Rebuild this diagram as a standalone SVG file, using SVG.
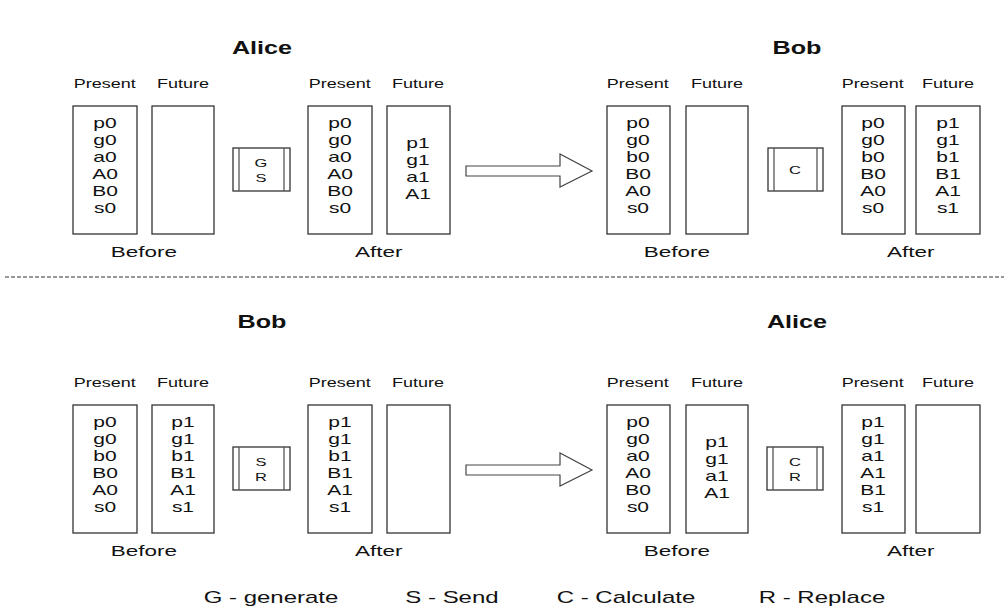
<svg xmlns="http://www.w3.org/2000/svg" width="1004" height="608" viewBox="0 0 1004 608">
  <style>
    text { font-family: "Liberation Sans", Arial, sans-serif; fill: #111; text-anchor: middle;
           transform-box: fill-box; transform-origin: center; transform: scaleX(1.5); }
    .title { font-size: 18px; font-weight: bold; transform: scaleX(1.4); }
    .hdr { font-size: 12px; }
    .cap { font-size: 15px; }
    .val { font-size: 14px; }
    .op { font-size: 11px; }
    .legend { font-size: 16px; }
    .reg { fill: #fff; stroke: #333; stroke-width: 1.3; }
    .proc { fill: #fff; stroke: #333; stroke-width: 1.3; }
    .bar { stroke: #555; stroke-width: 1.3; }
    .arrow { fill: #fff; stroke: #444; stroke-width: 1.2; }
    .sep { stroke: #777; stroke-width: 1.5; stroke-dasharray: 4 2; }
  </style>

  <!-- section titles -->
  <text class="title" x="262" y="54">Alice</text>
  <text class="title" x="797" y="54">Bob</text>
  <text class="title" x="262" y="328">Bob</text>
  <text class="title" x="797" y="328">Alice</text>

  <!-- separator between the two exchanges -->
  <line class="sep" x1="5" y1="277" x2="1004" y2="277"/>

  <!-- ===== Top row: Alice generates & sends, Bob calculates ===== -->
  <g id="alice-before-1">
    <text class="hdr" x="105" y="88">Present</text>
    <text class="hdr" x="183" y="88">Future</text>
    <rect class="reg" x="73" y="106" width="64" height="128"/>
    <rect class="reg" x="152" y="106" width="62" height="128"/>
    <text class="val" x="105" y="128">p0</text>
    <text class="val" x="105" y="145">g0</text>
    <text class="val" x="105" y="162">a0</text>
    <text class="val" x="105" y="179">A0</text>
    <text class="val" x="105" y="196">B0</text>
    <text class="val" x="105" y="213">s0</text>
    <text class="cap" x="144" y="257">Before</text>
  </g>

  <g id="op-gs">
    <rect class="proc" x="233" y="148" width="57" height="43"/>
    <line class="bar" x1="239" y1="148" x2="239" y2="191"/>
    <line class="bar" x1="284" y1="148" x2="284" y2="191"/>
    <text class="op" x="261" y="167">G</text>
    <text class="op" x="261" y="182">S</text>
  </g>

  <g id="alice-after-1">
    <text class="hdr" x="340" y="88">Present</text>
    <text class="hdr" x="418" y="88">Future</text>
    <rect class="reg" x="308" y="106" width="64" height="128"/>
    <rect class="reg" x="387" y="106" width="63" height="128"/>
    <text class="val" x="340" y="128">p0</text>
    <text class="val" x="340" y="145">g0</text>
    <text class="val" x="340" y="162">a0</text>
    <text class="val" x="340" y="179">A0</text>
    <text class="val" x="340" y="196">B0</text>
    <text class="val" x="340" y="213">s0</text>
    <text class="val" x="418" y="148">p1</text>
    <text class="val" x="418" y="165">g1</text>
    <text class="val" x="418" y="182">a1</text>
    <text class="val" x="418" y="199">A1</text>
    <text class="cap" x="379" y="257">After</text>
  </g>

  <g id="connectors">
    <path class="arrow" d="M466,166 H560 V154 L592,171 L560,187 V176 H466 Z"/>
    <path class="arrow" d="M466,465 H560 V453 L592,470 L560,486 V475 H466 Z"/>
  </g>

  <g id="bob-before-1">
    <text class="hdr" x="638" y="88">Present</text>
    <text class="hdr" x="717" y="88">Future</text>
    <rect class="reg" x="607" y="106" width="63" height="128"/>
    <rect class="reg" x="686" y="106" width="62" height="128"/>
    <text class="val" x="638" y="128">p0</text>
    <text class="val" x="638" y="145">g0</text>
    <text class="val" x="638" y="162">b0</text>
    <text class="val" x="638" y="179">B0</text>
    <text class="val" x="638" y="196">A0</text>
    <text class="val" x="638" y="213">s0</text>
    <text class="cap" x="677" y="257">Before</text>
  </g>

  <g id="op-c">
    <rect class="proc" x="768" y="148" width="55" height="43"/>
    <line class="bar" x1="774" y1="148" x2="774" y2="191"/>
    <line class="bar" x1="817" y1="148" x2="817" y2="191"/>
    <text class="op" x="795" y="174">C</text>
  </g>

  <g id="bob-after-1">
    <text class="hdr" x="873" y="88">Present</text>
    <text class="hdr" x="948" y="88">Future</text>
    <rect class="reg" x="842" y="106" width="63" height="128"/>
    <rect class="reg" x="916" y="106" width="64" height="128"/>
    <text class="val" x="873" y="128">p0</text>
    <text class="val" x="873" y="145">g0</text>
    <text class="val" x="873" y="162">b0</text>
    <text class="val" x="873" y="179">B0</text>
    <text class="val" x="873" y="196">A0</text>
    <text class="val" x="873" y="213">s0</text>
    <text class="val" x="948" y="128">p1</text>
    <text class="val" x="948" y="145">g1</text>
    <text class="val" x="948" y="162">b1</text>
    <text class="val" x="948" y="179">B1</text>
    <text class="val" x="948" y="196">A1</text>
    <text class="val" x="948" y="213">s1</text>
    <text class="cap" x="911" y="257">After</text>
  </g>

  <!-- ===== Bottom row: Bob sends & replaces, Alice calculates & replaces ===== -->
  <g id="bob-before-2">
    <text class="hdr" x="105" y="387">Present</text>
    <text class="hdr" x="183" y="387">Future</text>
    <rect class="reg" x="73" y="405" width="64" height="128"/>
    <rect class="reg" x="152" y="405" width="62" height="128"/>
    <text class="val" x="105" y="427">p0</text>
    <text class="val" x="105" y="444">g0</text>
    <text class="val" x="105" y="461">b0</text>
    <text class="val" x="105" y="478">B0</text>
    <text class="val" x="105" y="495">A0</text>
    <text class="val" x="105" y="512">s0</text>
    <text class="val" x="183" y="427">p1</text>
    <text class="val" x="183" y="444">g1</text>
    <text class="val" x="183" y="461">b1</text>
    <text class="val" x="183" y="478">B1</text>
    <text class="val" x="183" y="495">A1</text>
    <text class="val" x="183" y="512">s1</text>
    <text class="cap" x="144" y="556">Before</text>
  </g>

  <g id="op-sr">
    <rect class="proc" x="233" y="447" width="57" height="43"/>
    <line class="bar" x1="239" y1="447" x2="239" y2="490"/>
    <line class="bar" x1="284" y1="447" x2="284" y2="490"/>
    <text class="op" x="261" y="466">S</text>
    <text class="op" x="261" y="481">R</text>
  </g>

  <g id="bob-after-2">
    <text class="hdr" x="340" y="387">Present</text>
    <text class="hdr" x="418" y="387">Future</text>
    <rect class="reg" x="308" y="405" width="64" height="128"/>
    <rect class="reg" x="387" y="405" width="63" height="128"/>
    <text class="val" x="340" y="427">p1</text>
    <text class="val" x="340" y="444">g1</text>
    <text class="val" x="340" y="461">b1</text>
    <text class="val" x="340" y="478">B1</text>
    <text class="val" x="340" y="495">A1</text>
    <text class="val" x="340" y="512">s1</text>
    <text class="cap" x="379" y="556">After</text>
  </g>

  <g id="alice-before-2">
    <text class="hdr" x="638" y="387">Present</text>
    <text class="hdr" x="717" y="387">Future</text>
    <rect class="reg" x="607" y="405" width="63" height="128"/>
    <rect class="reg" x="686" y="405" width="62" height="128"/>
    <text class="val" x="638" y="427">p0</text>
    <text class="val" x="638" y="444">g0</text>
    <text class="val" x="638" y="461">a0</text>
    <text class="val" x="638" y="478">A0</text>
    <text class="val" x="638" y="495">B0</text>
    <text class="val" x="638" y="512">s0</text>
    <text class="val" x="717" y="447">p1</text>
    <text class="val" x="717" y="464">g1</text>
    <text class="val" x="717" y="481">a1</text>
    <text class="val" x="717" y="498">A1</text>
    <text class="cap" x="677" y="556">Before</text>
  </g>

  <g id="op-cr">
    <rect class="proc" x="767" y="447" width="56" height="43"/>
    <line class="bar" x1="773" y1="447" x2="773" y2="490"/>
    <line class="bar" x1="817" y1="447" x2="817" y2="490"/>
    <text class="op" x="795" y="466">C</text>
    <text class="op" x="795" y="481">R</text>
  </g>

  <g id="alice-after-2">
    <text class="hdr" x="873" y="387">Present</text>
    <text class="hdr" x="948" y="387">Future</text>
    <rect class="reg" x="842" y="405" width="63" height="128"/>
    <rect class="reg" x="916" y="405" width="64" height="128"/>
    <text class="val" x="873" y="427">p1</text>
    <text class="val" x="873" y="444">g1</text>
    <text class="val" x="873" y="461">a1</text>
    <text class="val" x="873" y="478">A1</text>
    <text class="val" x="873" y="495">B1</text>
    <text class="val" x="873" y="512">s1</text>
    <text class="cap" x="911" y="556">After</text>
  </g>

  <!-- legend -->
  <g id="legend">
    <text class="legend" x="271" y="603">G - generate</text>
    <text class="legend" x="452" y="603">S - Send</text>
    <text class="legend" x="626" y="603">C - Calculate</text>
    <text class="legend" x="822" y="603">R - Replace</text>
  </g>
</svg>
